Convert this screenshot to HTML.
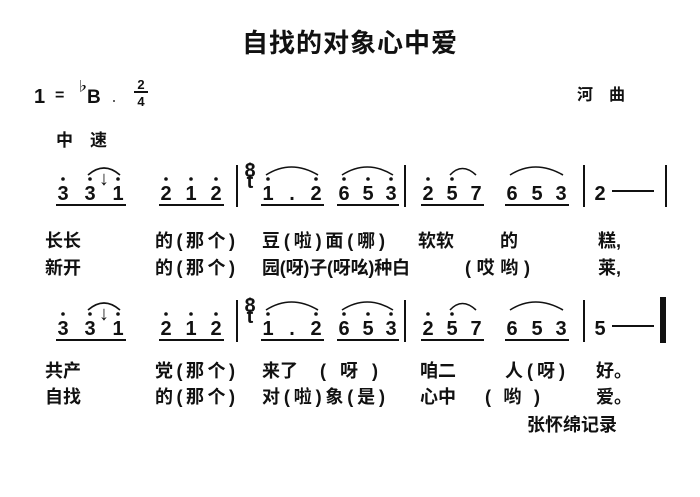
<!DOCTYPE html>
<html><head><meta charset="utf-8"><style>
html,body{margin:0;padding:0;background:#fff;width:700px;height:497px;overflow:hidden}
svg{display:block}
.t{font-family:"Liberation Sans","Noto Sans CJK SC",sans-serif;font-weight:bold;fill:#111}
.n{font-family:"Liberation Sans",sans-serif;font-weight:bold;font-size:20px;fill:#111;text-anchor:middle}
.l{font-family:"Liberation Sans","Noto Sans CJK SC",sans-serif;font-weight:bold;font-size:18px;fill:#111}
</style></head><body>
<svg width="700" height="497" viewBox="0 0 700 497" xmlns="http://www.w3.org/2000/svg">
<text class="t" x="350" y="52" font-size="26" text-anchor="middle" font-weight="normal" letter-spacing="1">自找的对象心中爱</text>
<text class="t" x="34" y="103" font-size="20">1</text>
<text class="t" x="55" y="100" font-size="16">=</text>
<text class="t" x="76" y="91" font-size="13">♭</text>
<text class="t" x="87" y="103" font-size="19" font-family="Liberation Serif">B</text>
<circle cx="114" cy="101" r="1" fill="#333"/>
<text class="t" x="141" y="89" font-size="13" text-anchor="middle">2</text>
<rect x="134" y="91" width="14" height="2" fill="#111"/>
<text class="t" x="141" y="106" font-size="13" text-anchor="middle">4</text>
<text class="t" x="577" y="100" font-size="16">河　曲</text>
<text class="t" x="56" y="146" font-size="17">中　速</text>

<g id="sys">
<g>
<text class="n" x="63" y="200">3</text><text class="n" x="90" y="200">3</text><text class="n" x="118" y="200">1</text>
<text class="n" x="166" y="200">2</text><text class="n" x="191" y="200">1</text><text class="n" x="216" y="200">2</text>
<text class="n" x="268" y="200">1</text><text class="n" x="292" y="200">.</text><text class="n" x="316" y="200">2</text>
<text class="n" x="344" y="200">6</text><text class="n" x="368" y="200">5</text><text class="n" x="391" y="200">3</text>
<text class="n" x="428" y="200">2</text><text class="n" x="452" y="200">5</text><text class="n" x="476" y="200">7</text>
<text class="n" x="512" y="200">6</text><text class="n" x="537" y="200">5</text><text class="n" x="561" y="200">3</text>
</g>
<g fill="#111">
<circle cx="63" cy="179" r="1.8"/><circle cx="90" cy="179" r="1.8"/><circle cx="118" cy="179" r="1.8"/>
<circle cx="166" cy="179" r="1.8"/><circle cx="191" cy="179" r="1.8"/><circle cx="216" cy="179" r="1.8"/>
<circle cx="268" cy="179" r="1.8"/><circle cx="316" cy="179" r="1.8"/>
<circle cx="344" cy="179" r="1.8"/><circle cx="368" cy="179" r="1.8"/><circle cx="391" cy="179" r="1.8"/>
<circle cx="428" cy="179" r="1.8"/><circle cx="452" cy="179" r="1.8"/>
<circle cx="250" cy="164" r="1.5"/>
<rect x="56" y="204" width="70" height="2"/><rect x="159" y="204" width="65" height="2"/>
<rect x="261" y="204" width="63" height="2"/><rect x="337" y="204" width="62" height="2"/>
<rect x="421" y="204" width="63" height="2"/><rect x="505" y="204" width="64" height="2"/>
<rect x="236" y="165" width="2" height="42"/><rect x="404" y="165" width="2" height="42"/><rect x="583" y="165" width="2" height="42"/>
<rect x="612" y="190" width="42" height="2"/>
</g>
<text class="n" x="250" y="177" font-size="10">8</text>
<text class="n" x="250" y="188" font-size="10">t</text>
<text class="n" x="104" y="185" font-size="9">↓</text>
<g fill="none" stroke="#111" stroke-width="1.6">
<path d="M88 175 Q104 161 120 175"/><path d="M266 175 Q291 159 318 175"/><path d="M342 175 Q367 159 393 175"/>
<path d="M450 175 Q462 162 476 175"/><path d="M510 175 Q535 159 563 175"/>
</g>
</g>
<text class="n" x="600" y="200">2</text>
<rect x="665" y="165" width="2" height="42" fill="#111"/>
<use href="#sys" y="135"/>
<text class="n" x="600" y="335">5</text>
<rect x="660" y="297" width="6" height="46" fill="#111"/>

<text class="l" x="45" y="247">长长</text><text class="l" x="155" y="247" textLength="80" lengthAdjust="spacing">的(那个)</text>
<text class="l" x="262" y="247" textLength="123" lengthAdjust="spacing">豆(啦)面(哪)</text><text class="l" x="418" y="247">软软</text>
<text class="l" x="500" y="247">的</text><text class="l" x="598" y="247">糕,</text>
<text class="l" x="45" y="274">新开</text><text class="l" x="155" y="274" textLength="80" lengthAdjust="spacing">的(那个)</text>
<text class="l" x="262" y="274" textLength="148" lengthAdjust="spacing">园(呀)子(呀吆)种白</text><text class="l" x="465" y="274" textLength="65" lengthAdjust="spacing">(哎哟)</text>
<text class="l" x="598" y="274">莱,</text>

<text class="l" x="45" y="377">共产</text><text class="l" x="155" y="377" textLength="80" lengthAdjust="spacing">党(那个)</text>
<text class="l" x="262" y="377">来了</text><text class="l" x="320" y="377" textLength="58" lengthAdjust="spacing">(呀)</text>
<text class="l" x="420" y="377">咱二</text><text class="l" x="505" y="377" textLength="60" lengthAdjust="spacing">人(呀)</text>
<text class="l" x="596" y="377">好。</text>
<text class="l" x="45" y="403">自找</text><text class="l" x="155" y="403" textLength="80" lengthAdjust="spacing">的(那个)</text>
<text class="l" x="262" y="403" textLength="123" lengthAdjust="spacing">对(啦)象(是)</text><text class="l" x="420" y="403">心中</text>
<text class="l" x="485" y="403" textLength="55" lengthAdjust="spacing">(哟)</text><text class="l" x="596" y="403">爱。</text>
<text class="l" x="527" y="431" font-size="16">张怀绵记录</text>
</svg>
</body></html>
